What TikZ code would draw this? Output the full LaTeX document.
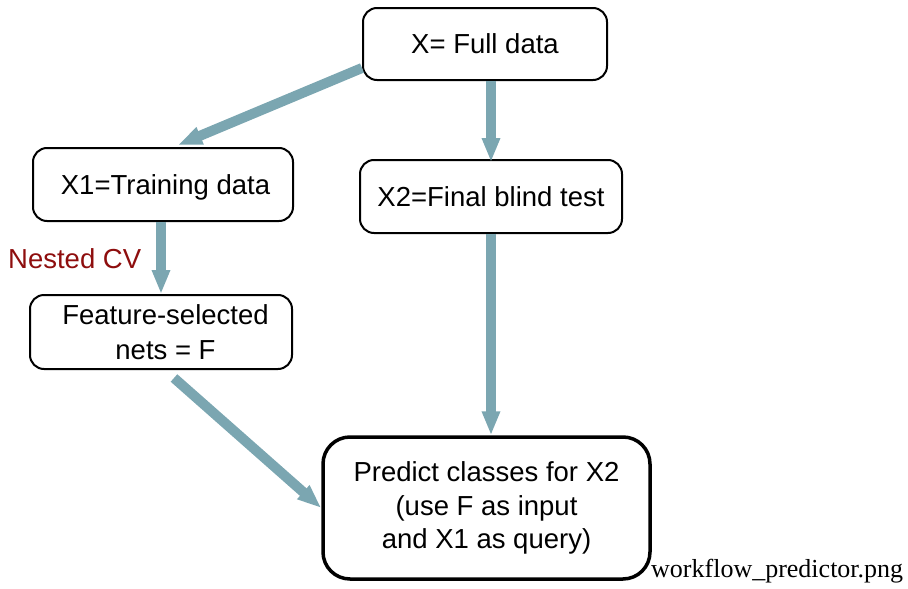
\documentclass[tikz,border=0pt]{standalone}
\usepackage{fontspec}
\setmainfont{Liberation Sans}
\newfontfamily\capfont{Liberation Serif}
\usetikzlibrary{arrows.meta}
\definecolor{arrowc}{HTML}{7BA6B1}
\definecolor{nestc}{HTML}{8E0E0E}
\tikzset{
  box/.style={draw=black, line width=2pt, rounded corners=14pt, fill=white, inner sep=0pt, align=center,
    font=\fontsize{27.5}{35.5}\selectfont},
  oneline/.style={text height=19.6pt, text depth=0pt},
  bigbox/.style={draw=black, line width=3.5pt, rounded corners=27pt, fill=white, inner sep=0pt, align=center,
    font=\fontsize{27.5}{33.5}\selectfont},
  arr/.style={draw=arrowc, line width=10pt, -{Triangle[length=24pt,width=17pt]}},
}
\begin{document}
\begin{tikzpicture}[x=1pt,y=-1pt]
\path[use as bounding box] (0,0) rectangle (908,589);
\node[box,oneline,minimum width=244pt,minimum height=72pt] (X) at (485,44) {X= Full data};
\node[box,oneline,minimum width=260pt,minimum height=73pt] (X1) at (163,184.5) {\hspace*{5pt}X1=Training data};
\node[box,oneline,minimum width=262pt,minimum height=73pt] (X2) at (491,196.5) {X2=Final blind test};
\node[box,minimum width=262pt,minimum height=74pt] (F) at (161,332) {\hspace*{9pt}Feature-selected\\\hspace*{9pt}nets = F};
\node[bigbox,minimum width=327pt,minimum height=142pt] (P) at (486.5,508) {Predict classes for X2\\(use F as input\\and X1 as query)};
\node[anchor=base west, inner sep=0pt, text=nestc, font=\fontsize{27.5}{33}\selectfont] (cv) at (8,268) {Nested CV};
\node[anchor=base west, inner sep=0pt, font=\capfont\fontsize{26}{30}\selectfont] (cap) at (651,577) {workflow\_predictor.png};
\draw[arr] ([yshift=13pt]X.south west) -- ([xshift=15pt,yshift=2pt]X1.north);
\draw[arr] (X2.north |- X.south) -- ([yshift=-3pt]X2.north);
\draw[arr] (F.north |- X1.south) -- (F.north);
\draw[arr] (X2.south) -- (X2.south |- P.north);
\draw[arr] ([xshift=13pt,yshift=-8pt]F.south) -- (P.west);
\end{tikzpicture}
\end{document}
